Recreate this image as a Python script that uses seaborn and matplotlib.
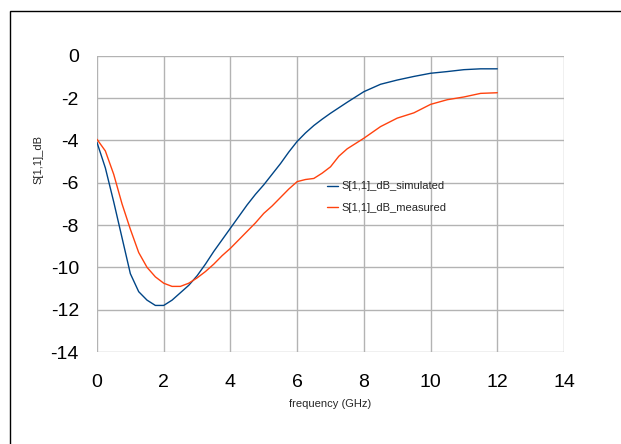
import matplotlib
matplotlib.use("Agg")
import matplotlib.pyplot as plt
import seaborn as sns
import pandas as pd
from matplotlib.patches import Rectangle

freq_sim = [0, 0.25, 0.5, 0.75, 1.0, 1.25, 1.5, 1.75, 2.0, 2.25, 2.5, 2.75, 3.0, 3.25,
            3.5, 3.75, 4.0, 4.25, 4.5, 4.75, 5.0, 5.25, 5.5, 5.75, 6.0, 6.25, 6.5, 6.75,
            7.0, 7.5, 8.0, 8.5, 9.0, 9.5, 10.0, 10.5, 11.0, 11.5, 12.0]
s11_sim = [-4.1, -5.3, -6.9, -8.6, -10.3, -11.15, -11.55, -11.8, -11.8, -11.55, -11.2,
           -10.85, -10.4, -9.85, -9.25, -8.7, -8.15, -7.6, -7.05, -6.55, -6.1, -5.6,
           -5.1, -4.55, -4.05, -3.65, -3.3, -3.0, -2.72, -2.2, -1.7, -1.35, -1.15,
           -0.98, -0.83, -0.75, -0.66, -0.62, -0.62]

freq_meas = [0, 0.25, 0.5, 0.75, 1.0, 1.25, 1.5, 1.75, 2.0, 2.25, 2.5, 2.75, 3.0, 3.25,
             3.5, 3.75, 4.0, 4.25, 4.5, 4.75, 5.0, 5.25, 5.5, 5.75, 6.0, 6.25, 6.5, 6.75,
             7.0, 7.25, 7.5, 7.75, 8.0, 8.5, 9.0, 9.5, 10.0, 10.5, 11.0, 11.5, 12.0]
s11_meas = [-3.95, -4.5, -5.6, -7.0, -8.2, -9.3, -10.0, -10.45, -10.75, -10.9, -10.9,
            -10.75, -10.5, -10.2, -9.85, -9.45, -9.1, -8.7, -8.3, -7.9, -7.45, -7.1,
            -6.7, -6.3, -5.95, -5.85, -5.8, -5.55, -5.25, -4.75, -4.4, -4.15, -3.9,
            -3.35, -2.95, -2.7, -2.3, -2.08, -1.95, -1.78, -1.75]

labels = ["S[1,1]_dB_simulated", "S[1,1]_dB_measured"]
colors = ["#004586", "#ff420e"]
xticks = [0, 2, 4, 6, 8, 10, 12, 14]
yticks = [0, -2, -4, -6, -8, -10, -12, -14]

sns.set_theme(style="white")
plt.rcParams["font.family"] = ["Liberation Sans", "DejaVu Sans"]
plt.rcParams["axes.unicode_minus"] = False

df = pd.concat([
    pd.DataFrame({"freq": freq_sim, "s11": s11_sim, "series": labels[0]}),
    pd.DataFrame({"freq": freq_meas, "s11": s11_meas, "series": labels[1]}),
])

fig = plt.figure(figsize=(6.21, 4.44), dpi=100)
ax = fig.add_axes([97/621, 1-352/444, 467/621, 296.3/444])

sns.lineplot(data=df, x="freq", y="s11", hue="series", palette=colors,
             ax=ax, linewidth=1.0, legend=True)

ax.set_xlim(0, 14)
ax.set_ylim(-14, 0)
ax.set_xticks(xticks)
ax.set_yticks(yticks)
ax.grid(True, color="#b3b3b3", linewidth=1.0)
ax.set_axisbelow(True)
for s in ax.spines.values():
    s.set_visible(False)
ax.tick_params(axis="both", which="major", length=7, width=1, color="#b3b3b3",
               labelsize=14, labelcolor="black", direction="out")
ax.tick_params(axis="x", pad=9)
ax.tick_params(axis="y", pad=6)

ax.set_xlabel("frequency (GHz)", fontsize=8)
ax.set_ylabel("S[1,1]_dB", fontsize=8)
ax.xaxis.set_label_coords(0.5, -47/296.3)
ax.yaxis.set_label_coords((43-97)/467, (352-160)/296.3)

leg = ax.legend(frameon=False, fontsize=8, loc="center left",
                bbox_to_anchor=((327-97)/467, (352-197)/296.3),
                handlelength=1.0, handletextpad=0.3, labelspacing=1.0,
                borderpad=0, borderaxespad=0)
for h in leg.get_lines():
    h.set_linewidth(1.0)

fig.patches.append(Rectangle((10/621, -0.1), 1.2, (444-11)/444 + 0.1,
                             transform=fig.transFigure, fill=False,
                             edgecolor="black", linewidth=1.0))

fig.savefig("out.png", dpi=100)
